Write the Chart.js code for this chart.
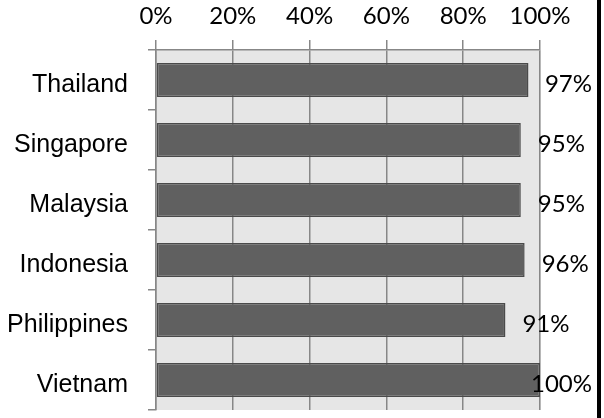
<!DOCTYPE html>
<html lang="en">
<head>
  <meta charset="utf-8">
  <title>Coverage by country</title>
  <style>
    * { box-sizing: border-box; margin: 0; padding: 0; }
    html, body { width: 604px; height: 418px; background: #ffffff; overflow: hidden; }
    #wrap { position: relative; width: 604px; height: 418px; }
  </style>
  <script src="https://cdn.jsdelivr.net/npm/chart.js"></script>
</head>
<body>
  <div id="wrap"><canvas id="chart" width="604" height="418"></canvas></div>
  <script>
    // Data
    const countries = ['Thailand', 'Singapore', 'Malaysia', 'Indonesia', 'Philippines', 'Vietnam'];
    const shares = [97, 95, 95, 96, 91, 100];
    const axisTicks = [0, 20, 40, 60, 80, 100];

    const gridGray = '#878787';
    const labelFont = { family: 'Lato, "Open Sans", sans-serif', size: 24 };

    // light gray plot area behind the bars
    const plotBackground = {
      id: 'plotBackground',
      beforeDraw(chart) {
        const { ctx, chartArea: a } = chart;
        ctx.save();
        ctx.fillStyle = '#e6e6e6';
        ctx.fillRect(a.left, a.top, a.right - a.left + 1, a.bottom - a.top);
        ctx.restore();
      }
    };

    // percentage labels just past the end of each bar
    const valueLabels = {
      id: 'valueLabels',
      afterDatasetsDraw(chart) {
        const { ctx } = chart;
        const meta = chart.getDatasetMeta(0);
        ctx.save();
        ctx.font = labelFont.size + 'px ' + labelFont.family;
        ctx.fillStyle = '#000000';
        ctx.textBaseline = 'middle';
        ctx.textAlign = 'left';
        meta.data.forEach((bar, i) => {
          const text = shares[i] + '%';
          const w = ctx.measureText(text).width;
          let x = bar.x + 17;
          if (x + w > 592) x = 592 - w;
          ctx.fillText(text, x, bar.y + 4);
        });
        ctx.restore();
      }
    };

    // heavy black rule along the right edge
    const rightRule = {
      id: 'rightRule',
      afterDraw(chart) {
        const { ctx } = chart;
        ctx.save();
        ctx.fillStyle = '#000000';
        ctx.fillRect(597, 0, 4, chart.height);
        ctx.restore();
      }
    };

    new Chart(document.getElementById('chart'), {
      type: 'bar',
      data: {
        labels: countries,
        datasets: [{
          data: shares,
          backgroundColor: '#606060',
          borderColor: '#4a4a4a',
          borderWidth: 1.5,
          borderSkipped: false,
          barPercentage: 0.57,
          categoryPercentage: 1
        }]
      },
      options: {
        indexAxis: 'y',
        responsive: false,
        animation: false,
        layout: { padding: { top: 0, right: 64, bottom: 8, left: 0 } },
        plugins: { legend: { display: false }, tooltip: { enabled: false } },
        scales: {
          x: {
            position: 'top',
            min: 0,
            max: 100,
            afterBuildTicks(scale) { scale.ticks = axisTicks.map(v => ({ value: v })); },
            afterFit(scale) { scale.height = 50; },
            grid: { color: gridGray, lineWidth: 1.5, tickLength: 10, tickColor: gridGray },
            border: { color: gridGray, width: 1.5 },
            ticks: {
              color: '#000000',
              font: labelFont,
              padding: 9,
              maxRotation: 0,
              callback: v => v + '%'
            }
          },
          y: {
            afterFit(scale) {
              scale.width = 156;
              scale.paddingTop = 0;
              scale.paddingBottom = 0;
            },
            grid: { offset: true, drawOnChartArea: false, color: gridGray, lineWidth: 1.5, tickLength: 8 },
            border: { color: gridGray, width: 1.5 },
            ticks: {
              color: '#000000',
              font: { family: '"Liberation Sans", Arial, sans-serif', size: 25 },
              padding: 20,
              labelOffset: 5
            }
          }
        }
      },
      plugins: [plotBackground, valueLabels, rightRule]
    });
  </script>
</body>
</html>
